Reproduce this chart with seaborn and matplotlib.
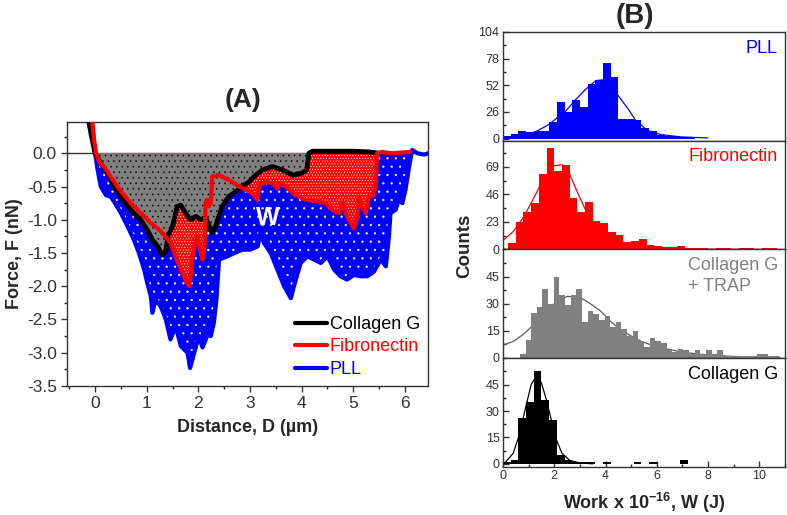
import numpy as np
import pandas as pd
import seaborn as sns
import matplotlib.pyplot as plt
from matplotlib.ticker import MultipleLocator

# ---------------- Panel A: force-distance curves ----------------
pll_x = [-0.08, -0.03, 0.0, 0.05, 0.11, 0.21, 0.3, 0.37, 0.5, 0.63, 0.75, 0.85, 0.95,
         1.01, 1.08, 1.11, 1.17, 1.27, 1.37, 1.46, 1.56, 1.66, 1.79, 1.84, 1.92, 2.01,
         2.08, 2.17, 2.2, 2.24, 2.3, 2.35, 2.4, 2.56, 2.7, 2.85, 3.0, 3.15, 3.2, 3.27,
         3.4, 3.53, 3.66, 3.79, 3.85, 3.98, 4.11, 4.24, 4.37, 4.5, 4.63, 4.75, 4.88,
         5.01, 5.14, 5.27, 5.4, 5.53, 5.63, 5.69, 5.72, 5.82, 5.88, 5.95, 6.01, 6.08,
         6.14, 6.24, 6.37, 6.45]
pll_y = [0.6, 0.25, 0.0, -0.25, -0.5, -0.63, -0.65, -0.73, -0.9, -1.1, -1.3, -1.5, -1.75,
         -1.95, -2.15, -2.4, -2.2, -2.3, -2.5, -2.8, -2.6, -2.9, -3.0, -3.23, -3.0, -2.75,
         -2.92, -2.75, -2.55, -2.75, -2.55, -2.2, -1.6, -1.55, -1.5, -1.45, -1.45, -1.4,
         -1.2, -1.35, -1.5, -1.75, -2.0, -2.18, -2.0, -1.65, -1.55, -1.6, -1.65, -1.55,
         -1.75, -1.85, -1.9, -1.83, -1.85, -1.85, -1.78, -1.6, -1.7, -1.25, -0.9, -0.85,
         -0.7, -0.75, -0.55, -0.2, 0.05, 0.0, -0.02, 0.0]

col_x = [-0.15, -0.08, 0.0, 0.11, 0.24, 0.37, 0.5, 0.63, 0.75, 0.88, 1.01, 1.11, 1.21,
         1.3, 1.37, 1.41, 1.5, 1.59, 1.66, 1.75, 1.85, 1.95, 2.05, 2.14, 2.27, 2.33,
         2.46, 2.59, 2.72, 2.85, 2.98, 3.08, 3.24, 3.43, 3.63, 3.82, 4.0, 4.1, 4.14,
         4.21, 4.6, 5.0, 5.3, 5.5]
col_y = [0.6, 0.3, 0.0, -0.15, -0.3, -0.5, -0.65, -0.8, -0.9, -1.0, -1.15, -1.3, -1.4,
         -1.53, -1.48, -1.25, -1.1, -0.8, -0.78, -0.9, -1.0, -0.95, -1.0, -0.97, -1.2,
         -1.1, -0.8, -0.65, -0.58, -0.5, -0.43, -0.35, -0.25, -0.2, -0.25, -0.33, -0.3,
         -0.25, 0.0, 0.03, 0.03, 0.03, 0.02, 0.0]

fib_x = [-0.07, -0.02, 0.02, 0.08, 0.17, 0.3, 0.43, 0.56, 0.69, 0.82, 0.95, 1.08, 1.21,
         1.34, 1.46, 1.56, 1.66, 1.75, 1.82, 1.85, 1.88, 1.92, 1.98, 2.05, 2.08, 2.12,
         2.14, 2.17, 2.2, 2.24, 2.27, 2.4, 2.53, 2.66, 2.79, 2.92, 3.04, 3.14, 3.18,
         3.31, 3.43, 3.53, 3.56, 3.69, 3.88, 4.08, 4.27, 4.46, 4.59, 4.72, 4.78, 4.88,
         5.01, 5.08, 5.11, 5.17, 5.24, 5.3, 5.37, 5.43, 5.46, 5.56, 5.75, 6.1]
fib_y = [0.6, 0.2, 0.0, -0.13, -0.2, -0.35, -0.5, -0.63, -0.75, -0.85, -0.95, -1.05,
         -1.13, -1.23, -1.35, -1.55, -1.75, -1.9, -2.0, -1.85, -1.6, -1.4, -1.25, -1.5,
         -1.6, -1.4, -0.75, -0.7, -0.8, -0.75, -0.35, -0.33, -0.38, -0.43, -0.5, -0.55,
         -0.6, -0.7, -0.48, -0.43, -0.45, -0.53, -0.45, -0.5, -0.63, -0.7, -0.72, -0.75,
         -0.85, -0.9, -0.75, -0.95, -1.13, -0.95, -0.65, -0.8, -0.9, -0.65, -0.65, -0.5,
         0.0, 0.02, 0.0, 0.02]

# ---------------- Panel B: work histograms ----------------
# (first bin edge, bin width, counts)
pll_start, pll_width = 0.0, 0.3
pll_counts = [3, 5, 7, 6, 7, 7, 16, 36, 26, 38, 31, 53, 57, 74, 60, 19, 19, 18, 10, 7,
              4, 3, 3, 2, 2]
pll_fit_x = [0.3, 0.8, 1.3, 1.8, 2.1, 2.44, 2.83, 3.22, 3.61, 3.94, 4.46, 4.85, 5.17,
             5.63, 6.15, 6.93, 7.98]
pll_fit_y = [1, 3, 7, 14, 20, 26.6, 38, 48, 56.5, 57.5, 43, 30, 18, 8, 4, 1.7, 0.7]

fib_start, fib_width = 0.2, 0.3
fib_counts = [5, 23, 31, 39, 63, 85, 66, 71, 43, 31, 40, 24, 22, 15, 12, 6, 7, 9, 4, 3,
              2, 2, 3, 1, 1, 1, 0, 1, 1, 0, 1, 1, 0, 1, 1]
fib_fit_x = [0.0, 0.4, 0.8, 1.2, 1.6, 2.0, 2.3, 2.6, 2.9, 3.2, 3.6, 4.0, 4.5, 5.0, 6.0,
             7.0, 8.0, 10.8]
fib_fit_y = [7.5, 15, 27, 43, 60, 70, 71, 63, 48, 34, 21, 13, 7, 4, 1.5, 0.6, 0.3, 0.0]

trap_start, trap_width = 0.0, 0.22
trap_counts = [0, 0, 0, 2, 10, 25, 28, 38, 30, 45, 35, 29, 35, 38, 20, 26, 24, 21, 23,
               17, 20, 16, 12, 15, 9, 6, 11, 9, 8, 4, 3, 5, 4, 2, 4, 2, 4, 2, 4, 1,
               1, 1, 1, 1, 1, 2, 2, 1, 1, 0]
trap_fit_x = [0.0, 0.4, 0.8, 1.1, 1.5, 2.0, 2.5, 3.0, 3.4, 3.8, 4.2, 4.6, 5.0, 5.4, 6.0,
              7.0, 8.0, 9.0, 10.8]
trap_fit_y = [7, 9, 13, 17, 23, 30, 34, 33.5, 30, 26, 20, 15.5, 12, 9, 6, 3, 1.5, 0.7,
              0.2]

colg_start, colg_width = 0.0, 0.3
colg_counts = [1, 2, 26, 35, 53, 36, 25, 5, 2, 1, 1, 1, 0, 1, 0, 0, 0, 1, 0, 1, 0, 0,
               0, 2]
colg_fit_x = [0.1, 0.4, 0.65, 0.9, 1.1, 1.3, 1.5, 1.7, 1.9, 2.1, 2.3, 2.6, 3.0, 3.5]
colg_fit_y = [1, 6, 17, 33, 45, 50, 46, 36, 24, 13, 6, 2, 0.5, 0.0]

hist_names = ['PLL', 'Fibronectin', 'Collagen G\n+ TRAP', 'Collagen G']
hist_colors = ['#0000ff', '#ff0000', '#808080', '#000000']
fit_colors = ['#0000ff', '#ff0000', '#5a5a5a', '#000000']
hist_ylims = [(-2, 104), (0, 91), (-0.3, 60), (-1.8, 60)]
hist_yticks = [[0, 26, 52, 78, 104], [0, 23, 46, 69], [0, 15, 30, 45], [0, 15, 30, 45]]

# ---------------- style ----------------
sns.set_theme(style='ticks')
plt.rcParams['font.family'] = ['Liberation Sans', 'DejaVu Sans']
plt.rcParams['hatch.linewidth'] = 0.4
plt.rcParams['axes.linewidth'] = 1.0
plt.rcParams['axes.edgecolor'] = '#333333'
plt.rcParams['axes.unicode_minus'] = False
plt.rcParams['mathtext.fontset'] = 'custom'
plt.rcParams['mathtext.rm'] = 'Liberation Sans:bold'
plt.rcParams['mathtext.default'] = 'rm'

fig = plt.figure(figsize=(7.87, 5.15), dpi=100)

#%% panel A
axA = fig.add_axes([0.0847, 0.2505, 0.4594, 0.5126])
pll_y_arr = np.array(pll_y)
fib_y_arr = np.array(fib_y)
col_y_arr = np.array(col_y)

axA.fill_between(pll_x, 0, pll_y, where=pll_y_arr <= 0.001, interpolate=True,
                 facecolor='#0000ff', edgecolor='white', hatch='..', linewidth=0, zorder=1)
sns.lineplot(x=pll_x, y=pll_y, sort=False, estimator=None, color='#0000ff', lw=3,
             ax=axA, label='PLL', zorder=2)
axA.fill_between(fib_x, 0, fib_y, where=fib_y_arr <= 0.001, interpolate=True,
                 facecolor='#ff0000', edgecolor='white', hatch='......', linewidth=0,
                 zorder=3)
axA.fill_between(col_x, 0, col_y, where=col_y_arr <= 0.001, interpolate=True,
                 facecolor='#7f7f7f', edgecolor='black', hatch='...', linewidth=0, zorder=4)
sns.lineplot(x=col_x, y=col_y, sort=False, estimator=None, color='black', lw=3.5,
             ax=axA, label='Collagen G', zorder=5)
sns.lineplot(x=fib_x, y=fib_y, sort=False, estimator=None, color='#ff0000', lw=3,
             ax=axA, label='Fibronectin', zorder=6)
axA.axhline(0, color='#333333', lw=1, zorder=0.5)

axA.text(3.35, -0.98, 'W', color='white', fontsize=18, fontweight='bold',
         ha='center', va='center', zorder=7)

axA.set_xlim(-0.55, 6.45)
axA.set_ylim(-3.5, 0.47)
axA.xaxis.set_major_locator(MultipleLocator(1))
axA.xaxis.set_minor_locator(MultipleLocator(0.5))
axA.yaxis.set_major_locator(MultipleLocator(0.5))
axA.yaxis.set_minor_locator(MultipleLocator(0.25))
axA.yaxis.set_major_formatter(plt.FuncFormatter(lambda v, p: f'{v:.1f}'))
axA.tick_params(which='major', direction='out', length=4, width=1, labelsize=12.5,
                colors='#333333', top=False, right=False, pad=3)
axA.tick_params(which='minor', direction='out', length=2.5, width=1, top=False, right=False)
axA.set_xlabel('Distance, D (µm)', fontsize=13, fontweight='bold', labelpad=6)
axA.set_ylabel('Force, F (nN)', fontsize=13, fontweight='bold', labelpad=3)

handles, labels = axA.get_legend_handles_labels()
order = [labels.index('Collagen G'), labels.index('Fibronectin'), labels.index('PLL')]
leg = axA.legend([handles[i] for i in order], [labels[i] for i in order],
                 loc='lower right', frameon=False, fontsize=13, handlelength=1.8,
                 handletextpad=0.15, labelspacing=0.3, borderaxespad=0.05,
                 labelcolor='linecolor')
for line in leg.get_lines():
    line.set_linewidth(3)

fig.text(0.309, 0.806, '(A)', ha='center', va='center', fontsize=19, fontweight='bold')

#%% panel B
hist_data = [
    (pll_start, pll_width, pll_counts, pll_fit_x, pll_fit_y),
    (fib_start, fib_width, fib_counts, fib_fit_x, fib_fit_y),
    (trap_start, trap_width, trap_counts, trap_fit_x, trap_fit_y),
    (colg_start, colg_width, colg_counts, colg_fit_x, colg_fit_y),
]
b_left, b_width, b_bottom = 0.6391, 0.3584, 0.0932
b_height = (0.938 - b_bottom) / 4

for i, (start, width, counts, fx, fy) in enumerate(hist_data):
    ax = fig.add_axes([b_left, b_bottom + (3 - i) * b_height, b_width, b_height])
    edges = [round(start + width * k, 4) for k in range(len(counts) + 1)]
    df = pd.DataFrame({'work': [e + width / 2 for e in edges[:-1]], 'n': counts})
    sns.lineplot(x=fx, y=fy, sort=False, estimator=None, color=fit_colors[i], lw=0.9,
                 ax=ax, zorder=1)
    sns.histplot(data=df, x='work', weights='n', bins=edges, color=hist_colors[i],
                 alpha=1, linewidth=0, ax=ax, zorder=2)
    ax.set_xlim(0, 11)
    ax.set_ylim(*hist_ylims[i])
    ax.set_yticks(hist_yticks[i])
    step = hist_yticks[i][1]
    ax.yaxis.set_minor_locator(MultipleLocator(step / 2))
    ax.xaxis.set_major_locator(MultipleLocator(2))
    ax.xaxis.set_minor_locator(MultipleLocator(1))
    ax.tick_params(which='major', direction='in', length=4, width=1, labelsize=9,
                   colors='#333333', pad=2.5)
    ax.tick_params(which='minor', direction='in', length=2, width=1)
    ax.set_ylabel('')
    if i < 3:
        ax.tick_params(axis='x', which='both', bottom=False, labelbottom=False)
        ax.set_xlabel('')
    else:
        ax.set_xlabel('Work x 10$^{-16}$, W (J)', fontsize=13, fontweight='bold', labelpad=6)
    ax.text(0.975, 0.93, hist_names[i], transform=ax.transAxes, ha='right', va='top',
            color=hist_colors[i], fontsize=13, linespacing=1.3, multialignment='left',
            zorder=5)

fig.text(0.591, 0.522, 'Counts', rotation=90, ha='center', va='center', fontsize=13.5,
         fontweight='bold')
fig.text(0.807, 0.969, '(B)', ha='center', va='center', fontsize=20, fontweight='bold')

fig.savefig('out.png', dpi=100)
